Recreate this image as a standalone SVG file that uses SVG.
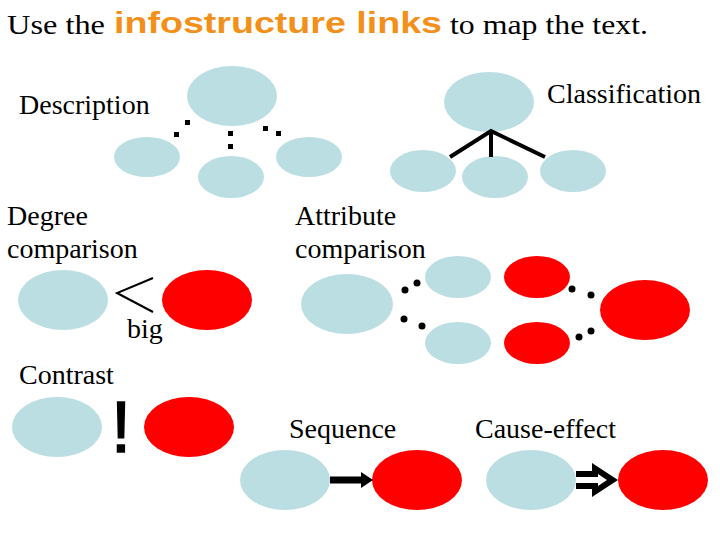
<svg xmlns="http://www.w3.org/2000/svg" width="720" height="540" viewBox="0 0 720 540">
<style>
.t{font-family:"Liberation Serif","Times New Roman",serif;font-size:28px;fill:#000}
.b{fill:#BADEE2}
.r{fill:#FF0000}
.ln{stroke:#000;fill:none}
</style>
<rect width="720" height="540" fill="#fff"/>
<g id="title">
<text class="t" x="7" y="34" font-size="30" textLength="98" lengthAdjust="spacingAndGlyphs">Use the</text>
<text x="114" y="33" font-family="'Liberation Sans',Arial,sans-serif" font-weight="bold" font-size="29" fill="#F39019" textLength="328" lengthAdjust="spacingAndGlyphs">infostructure links</text>
<text class="t" x="450" y="34" font-size="30" textLength="198" lengthAdjust="spacingAndGlyphs">to map the text.</text>
</g>
<g id="labels">
<text class="t" x="19" y="114">Description</text>
<text class="t" x="547" y="103">Classification</text>
<text class="t" x="7" y="225">Degree</text>
<text class="t" x="7" y="258">comparison</text>
<text class="t" x="295" y="225">Attribute</text>
<text class="t" x="295" y="258">comparison</text>
<text class="t" x="127" y="338" font-size="21">big</text>
<text class="t" x="19" y="384">Contrast</text>
<text class="t" x="289" y="438">Sequence</text>
<text class="t" x="475" y="438">Cause-effect</text>
</g>
<g id="description">
<ellipse id="desc-top" class="b" cx="232" cy="96" rx="45" ry="30"/>
<ellipse id="desc-left" class="b" cx="147" cy="157" rx="33" ry="20"/>
<ellipse id="desc-mid" class="b" cx="231" cy="177" rx="33" ry="21"/>
<ellipse id="desc-right" class="b" cx="309" cy="157" rx="33" ry="20"/>
</g>
<g id="classification">
<ellipse id="cls-top" class="b" cx="489" cy="102" rx="45" ry="30"/>
<ellipse id="cls-left" class="b" cx="423" cy="171" rx="33" ry="21"/>
<ellipse id="cls-mid" class="b" cx="495" cy="177" rx="33" ry="21"/>
<ellipse id="cls-right" class="b" cx="573" cy="171" rx="33" ry="21"/>
</g>
<g id="degree">
<ellipse id="deg-a" class="b" cx="63" cy="300" rx="45" ry="30"/>
<ellipse id="deg-b" class="r" cx="207" cy="300" rx="45" ry="30"/>
</g>
<g id="attribute">
<ellipse id="att-a" class="b" cx="347" cy="304" rx="46" ry="30"/>
<ellipse id="att-b1" class="b" cx="458" cy="277" rx="33" ry="21"/>
<ellipse id="att-b2" class="b" cx="458" cy="343" rx="33" ry="21"/>
<ellipse id="att-r1" class="r" cx="537" cy="277" rx="33" ry="21"/>
<ellipse id="att-r2" class="r" cx="537" cy="343" rx="33" ry="21"/>
<ellipse id="att-c" class="r" cx="645" cy="310" rx="45" ry="30"/>
</g>
<g id="contrast">
<ellipse id="con-a" class="b" cx="57" cy="427" rx="45" ry="30"/>
<ellipse id="con-b" class="r" cx="189" cy="427" rx="45" ry="30"/>
</g>
<g id="sequence">
<ellipse id="seq-a" class="b" cx="285" cy="480" rx="45" ry="30"/>
<ellipse id="seq-b" class="r" cx="417" cy="480" rx="45" ry="30"/>
</g>
<g id="cause-effect">
<ellipse id="ce-a" class="b" cx="531" cy="480" rx="45" ry="30"/>
<ellipse id="ce-b" class="r" cx="663" cy="480" rx="45" ry="30"/>
</g>
<g id="connectors">
<g fill="#000">
<rect x="185" y="120" width="5" height="5"/>
<rect x="174" y="132" width="5" height="5"/>
<rect x="228" y="131" width="5" height="5"/>
<rect x="228" y="144" width="5" height="5"/>
<rect x="263" y="126" width="5" height="5"/>
<rect x="276" y="131" width="5" height="5"/>
</g>
<path class="ln" stroke-width="4" d="M450 157 L491 131 L545 157 M491 131 V157"/>
<polyline class="ln" stroke-width="2" points="153,278 117,293 153,312"/>
<g fill="#000">
<circle cx="405" cy="290" r="3.5"/>
<circle cx="417" cy="283" r="3.5"/>
<circle cx="404" cy="319" r="3.5"/>
<circle cx="422" cy="326" r="3.5"/>
<circle cx="572" cy="289" r="3.5"/>
<circle cx="591" cy="295" r="3.5"/>
<circle cx="579" cy="337" r="3.5"/>
<circle cx="591" cy="331" r="3.5"/>
</g>
<text x="121" y="452" font-family="'Liberation Sans',Arial,sans-serif" font-size="72" text-anchor="middle" fill="#000" stroke="#000" stroke-width="1.5">!</text>
<path fill="#000" d="M330 476.5 H361 V472 L373 480 L361 488 V483.5 H330 Z"/>
<path fill="#000" d="M576 471 H592 V463 L618 480 L592 497 V489 H576 Z"/>
<path fill="#fff" d="M576 477 H598 V474 L607 480 L598 486 V483 H576 Z"/>
</g>
</svg>
